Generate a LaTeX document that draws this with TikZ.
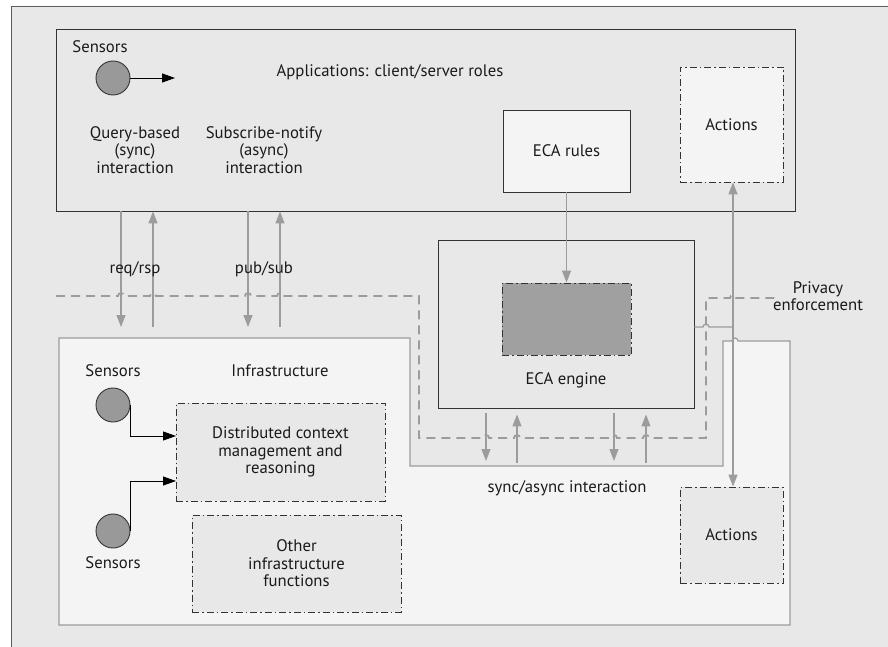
\documentclass[tikz,border=0pt]{standalone}
\usepackage{fontspec}
\setmainfont{PT Sans}
\usetikzlibrary{arrows.meta,calc}
\definecolor{bgc}{HTML}{E8E8E8}
\definecolor{lite}{HTML}{F4F4F4}
\definecolor{dk}{HTML}{333333}
\definecolor{gl}{HTML}{9C9C9C}
\definecolor{darkfill}{HTML}{A0A0A0}
\definecolor{sens}{HTML}{999999}
\definecolor{txt}{HTML}{1A1A1A}
\tikzset{
 lbl/.style={font=\fontsize{16.7}{17.5}\selectfont, text=txt, align=center, inner sep=0pt},
 solidbox/.style={draw=dk, line width=0.9pt, inner sep=0pt},
 dashbox/.style={draw=dk, line width=0.9pt, dash pattern=on 7pt off 3pt on 1.5pt off 3pt, inner sep=0pt},
 sensor/.style={circle, draw=dk, fill=sens, minimum size=34pt, inner sep=0pt, line width=0.9pt},
 garrow/.style={draw=gl, line width=1.2pt, -{Triangle[width=9pt,length=12pt]}},
 gline/.style={draw=gl, line width=1.2pt},
 barrow/.style={draw=black, line width=0.9pt, -{Triangle[width=9pt,length=13pt]}},
 privacy/.style={draw=gl, line width=1.8pt, dash pattern=on 9pt off 6pt},
}
\begin{document}
\begin{tikzpicture}[x=1pt,y=-1pt]
\useasboundingbox (0,0) rectangle (888,647);
\clip (0,0) rectangle (888,647);
\fill[white] (0,0) rectangle (888,647);
% outer frame
\draw[draw=dk!80, line width=1pt, fill=bgc] (11,7) rectangle (900,660);

% Applications box
\node[solidbox, minimum width=739pt, minimum height=182pt] (apps) at (425.5,120) {};
\node[lbl] (sensTop) at (100,47) {Sensors};
\node[sensor] (s1) at (113,78) {};
\coordinate (s1end) at (175,78);
\draw[barrow] (s1.east) -- (s1end);
\node[lbl] (apptitle) at (390,72) {Applications: client/server roles};
\node[lbl] (query) at (135,150) {Query-based\\(sync)\\interaction};
\node[lbl] (subs) at (264,150) {Subscribe-notify\\(async)\\interaction};
\node[solidbox, fill=lite, minimum width=127pt, minimum height=82pt, lbl] (ecarules) at (566.5,151) {ECA rules};
\node[dashbox, fill=lite, minimum width=103pt, minimum height=115pt, lbl] (actTop) at (731.5,124.5) {Actions};

% Infrastructure region
\draw[draw=gl, line width=1.2pt, fill=lite] (59,338) -- (410,338) -- (410,466) -- (723,466) -- (723,341)
  -- (732,341) arc[start angle=180,end angle=0,radius=3pt] -- (790,341) -- (790,625) -- (59,625) -- cycle;

% ECA engine
\node[solidbox, fill=bgc, minimum width=256pt, minimum height=168pt] (eca) at (566,324) {};
\node[dashbox, fill=darkfill, minimum width=129pt, minimum height=72pt] (ecain) at (566.5,319) {};
\node[lbl] (ecalbl) at (566,380) {ECA engine};
\draw[garrow] (ecarules.south) -- (ecain.north);

% privacy enforcement dashed line
\draw[privacy] (56,296) -- (118,296) arc[start angle=180,end angle=0,radius=3pt]
  -- (150,296) arc[start angle=180,end angle=0,radius=3pt]
  -- (245,296) arc[start angle=180,end angle=0,radius=3pt]
  -- (277,296) arc[start angle=180,end angle=0,radius=3pt]
  -- (419,296) -- (419,438)
  -- (483,438) arc[start angle=180,end angle=0,radius=3pt]
  -- (514,438) arc[start angle=180,end angle=0,radius=3pt]
  -- (611,438) arc[start angle=180,end angle=0,radius=3pt]
  -- (643,438) arc[start angle=180,end angle=0,radius=3pt]
  -- (706,438) -- (706,298)
  -- (730,298) arc[start angle=180,end angle=0,radius=3pt] -- (780,298);
\node[lbl] (priv) at (818,296) {Privacy\\enforcement};

% ECA engine to actions
\coordinate (j) at (733,327);
\draw[gline] (j -| eca.east) -- (703,327) arc[start angle=180,end angle=0,radius=3pt] -- (j);

% req/rsp and pub/sub arrows
\coordinate (rq1) at (121,327);
\coordinate (rq2) at (153,327);
\coordinate (ps1) at (248,327);
\coordinate (ps2) at (280,327);
\draw[garrow] (rq1 |- apps.south) -- (rq1);
\draw[garrow] (rq2) -- (rq2 |- apps.south);
\draw[garrow] (ps1 |- apps.south) -- (ps1);
\draw[garrow] (ps2) -- (ps2 |- apps.south);
\node[lbl] (reqrsp) at (135,269) {req/rsp};
\node[lbl] (pubsub) at (264,269) {pub/sub};

% sync/async arrows
\coordinate (sa1) at (486,461);
\coordinate (sa2) at (517,463);
\coordinate (sa3) at (614,461);
\coordinate (sa4) at (646,463);
\draw[garrow, shorten <=5pt] (sa1 |- eca.south) -- (sa1);
\draw[garrow, shorten >=6pt] (sa2) -- (sa2 |- eca.south);
\draw[garrow, shorten <=5pt] (sa3 |- eca.south) -- (sa3);
\draw[garrow, shorten >=6pt] (sa4) -- (sa4 |- eca.south);
\node[lbl] (syncl) at (567,488) {sync/async interaction};

% bottom actions
\node[dashbox, fill=bgc, minimum width=103pt, minimum height=96pt, lbl] (actBot) at (731.5,535) {Actions};
\draw[garrow] (j) -- (j |- actTop.south);
\draw[garrow] (j) -- (j |- actBot.north);

% infrastructure contents
\node[lbl] (sensMid) at (113,371) {Sensors};
\node[lbl] (infra) at (280,371) {Infrastructure};
\node[sensor] (s2) at (113,405) {};
\node[sensor] (s3) at (113,531) {};
\node[lbl] (sensBot) at (113,563) {Sensors};
\node[dashbox, fill=bgc, minimum width=209pt, minimum height=98pt, lbl] (dist) at (280.5,452) {Distributed context\\management and\\reasoning};
\node[dashbox, fill=bgc, minimum width=209pt, minimum height=97pt, lbl] (other) at (296.5,563.5) {Other\\infrastructure\\functions};
\coordinate (d1) at (176,436);
\coordinate (d2) at (176,481);
\draw[barrow] (s2.east) |- (d1);
\draw[barrow] (s3.east) |- (d2);
\end{tikzpicture}
\end{document}
